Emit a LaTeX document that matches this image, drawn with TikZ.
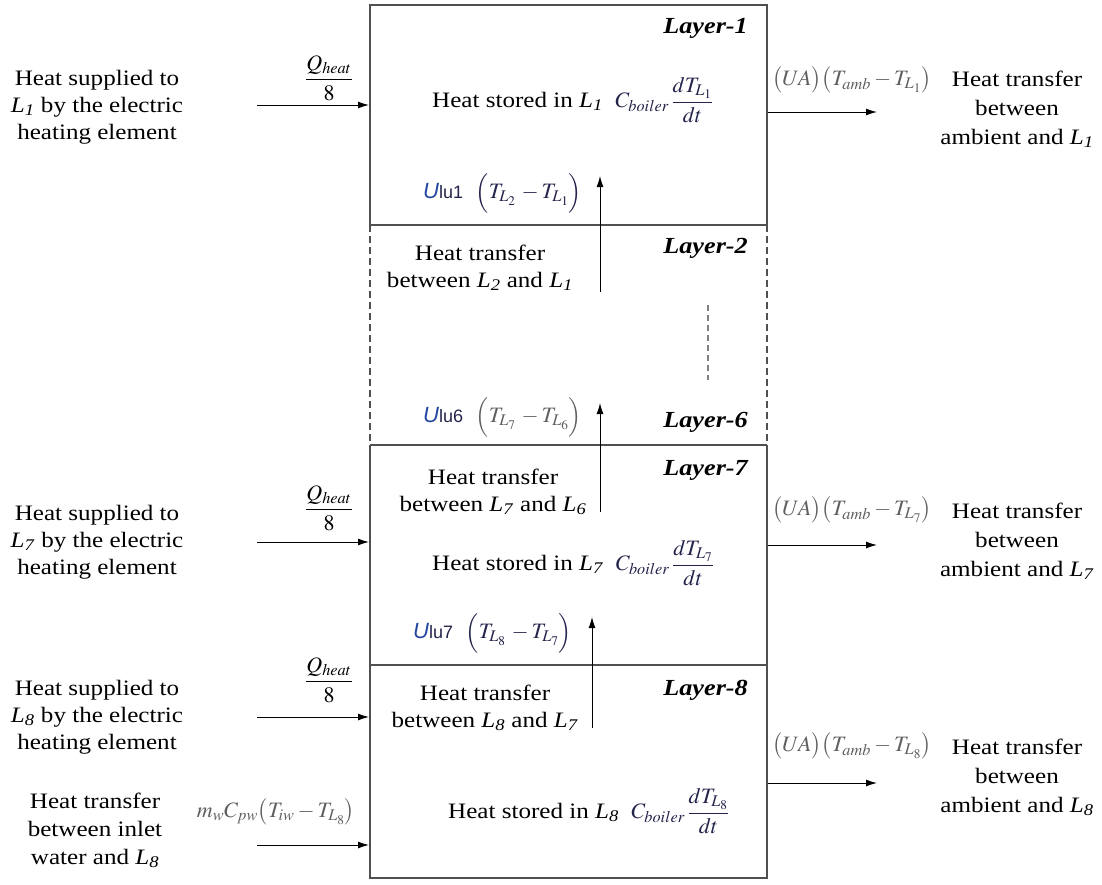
\documentclass[tikz,border=0pt]{standalone}
\usepackage{amsmath}
\usepackage{mathptmx}
\usepackage{fontspec}
\setmainfont{Liberation Serif}[FakeStretch=1.14]
\setsansfont{Liberation Sans}
\usetikzlibrary{arrows.meta}
\definecolor{fgray}{RGB}{95,95,95}
\definecolor{navy}{RGB}{35,35,75}
\definecolor{ublue}{RGB}{35,70,160}
\definecolor{boxc}{RGB}{80,80,80}
\newcommand{\Lsub}[1]{\textit{L}\textsubscript{\textit{#1}}}
\newcommand{\Ulu}[1]{{\color{ublue}\sffamily\itshape U}{\color{navy}\sffamily\fontsize{18}{20}\selectfont lu#1}}
\begin{document}
\begin{tikzpicture}[x=1pt,y=-1pt,
  every node/.style={inner sep=0pt, font=\rmfamily\fontsize{22}{27}\selectfont},
  boxline/.style={draw=boxc, line width=1.4pt},
  dashline/.style={dash pattern=on 7pt off 4pt},
  arr/.style={-{Latex[length=11pt,width=7pt]}, line width=1pt, black},
  txt/.style={align=center},
  layerlbl/.style={anchor=east, font=\rmfamily\fontsize{23}{26}\selectfont\bfseries\itshape},
  fml/.style={anchor=west},
  rtxt/.style={align=center, font=\rmfamily\fontsize{22}{29}\selectfont}]
\useasboundingbox (0,0) rectangle (1102,884);
% main box
\draw[boxline] (370,225) -- (370,5) -- (767,5) -- (767,225);
\draw[boxline] (370,445) -- (370,878) -- (767,878) -- (767,445);
\draw[boxline, dashline] (370,225) -- (370,445);
\draw[boxline, dashline] (767,225) -- (767,445);
\draw[boxline] (370,225) -- (767,225);
\draw[boxline] (370,445) -- (767,445);
\draw[boxline] (370,665) -- (767,665);
\coordinate (d1) at (708,305);
\coordinate (d2) at (708,380);
\draw[gray, dash pattern=on 6pt off 4pt, line width=1.2pt] (d1) -- (d2);
% layer labels
\node[layerlbl] (ly1) at (748,28) {Layer-1};
\node[layerlbl] (ly2) at (748,248) {Layer-2};
\node[layerlbl] (ly6) at (748,422) {Layer-6};
\node[layerlbl] (ly7) at (748,470) {Layer-7};
\node[layerlbl] (ly8) at (748,690) {Layer-8};
% left texts
\node[txt] (lt1) at (97,107) {Heat supplied to\\ \Lsub{1} by the electric\\ heating element};
\node[txt] (lt7) at (97,542) {Heat supplied to\\ \Lsub{7} by the electric\\ heating element};
\node[txt] (lt8) at (97,717) {Heat supplied to\\ \Lsub{8} by the electric\\ heating element};
\node[txt, font=\rmfamily\fontsize{22}{28}\selectfont] (lti) at (95,830) {Heat transfer\\ between inlet\\ water and \Lsub{8}};
% left arrows
\coordinate (a1s) at (257,105); \coordinate (a1e) at (369,105);
\coordinate (a7s) at (257,542); \coordinate (a7e) at (369,542);
\coordinate (a8s) at (257,717); \coordinate (a8e) at (369,717);
\coordinate (ais) at (257,845); \coordinate (aie) at (369,845);
\draw[arr] (a1s) -- (a1e);
\draw[arr] (a7s) -- (a7e);
\draw[arr] (a8s) -- (a8e);
\draw[arr] (ais) -- (aie);
\node (q1) at (329,78) {$\dfrac{Q_{heat}}{8}$};
\node (q7) at (329,508) {$\dfrac{Q_{heat}}{8}$};
\node (q8) at (329,680) {$\dfrac{Q_{heat}}{8}$};
\node[text=fgray] (mw) at (276,812) {$m_w C_{pw}\bigl(T_{iw}-T_{L_8}\bigr)$};
% middle texts
\node[fml] (hs1) at (432,100) {Heat stored in \Lsub{1}\ \ {\color{navy}$C_{boiler}\,\dfrac{dT_{L_1}}{dt}$}};
\node[fml] (hs7) at (432,563) {Heat stored in \Lsub{7}\ \ {\color{navy}$C_{boiler}\,\dfrac{dT_{L_7}}{dt}$}};
\node[fml] (hs8) at (448,811) {Heat stored in \Lsub{8}\ \ {\color{navy}$C_{boiler}\,\dfrac{dT_{L_8}}{dt}$}};
\node[fml] (u1) at (423,193) {\Ulu{1}\ \ {\color{navy}$\Bigl(T_{L_2}\,-T_{L_1}\Bigr)$}};
\node[fml] (u6) at (423,417) {\Ulu{6}\ \ {\color{fgray}$\Bigl(T_{L_7}\,-T_{L_6}\Bigr)$}};
\node[fml] (u7) at (413,633) {\Ulu{7}\ \ {\color{navy}$\Bigl(T_{L_8}\,-T_{L_7}\Bigr)$}};
\node[txt] (ht21) at (480,268) {Heat transfer\\ between \Lsub{2} and \Lsub{1}};
\node[txt] (ht76) at (493,492) {Heat transfer\\ between \Lsub{7} and \Lsub{6}};
\node[txt] (ht87) at (485,708) {Heat transfer\\ between \Lsub{8} and \Lsub{7}};
% vertical arrows
\coordinate (v1s) at (600,292); \coordinate (v1e) at (600,176);
\coordinate (v6s) at (600,512); \coordinate (v6e) at (600,403);
\coordinate (v7s) at (592,728); \coordinate (v7e) at (592,617);
\draw[arr] (v1s) -- (v1e);
\draw[arr] (v6s) -- (v6e);
\draw[arr] (v7s) -- (v7e);
% right side
\coordinate (r1s) at (768,112); \coordinate (r1e) at (877,112);
\coordinate (r7s) at (768,545); \coordinate (r7e) at (877,545);
\coordinate (r8s) at (768,783); \coordinate (r8e) at (877,783);
\draw[arr] (r1s) -- (r1e);
\draw[arr] (r7s) -- (r7e);
\draw[arr] (r8s) -- (r8e);
\node[fml, text=fgray] (ua1) at (772,80) {$\bigl(UA\bigr)\bigl(T_{amb}-T_{L_1}\bigr)$};
\node[fml, text=fgray] (ua7) at (772,510) {$\bigl(UA\bigr)\bigl(T_{amb}-T_{L_7}\bigr)$};
\node[fml, text=fgray] (ua8) at (772,746) {$\bigl(UA\bigr)\bigl(T_{amb}-T_{L_8}\bigr)$};
\node[rtxt] (rt1) at (1017,109) {Heat transfer\\ between\\ ambient and \Lsub{1}};
\node[rtxt] (rt7) at (1017,541) {Heat transfer\\ between\\ ambient and \Lsub{7}};
\node[rtxt] (rt8) at (1017,777) {Heat transfer\\ between\\ ambient and \Lsub{8}};
\end{tikzpicture}
\end{document}
